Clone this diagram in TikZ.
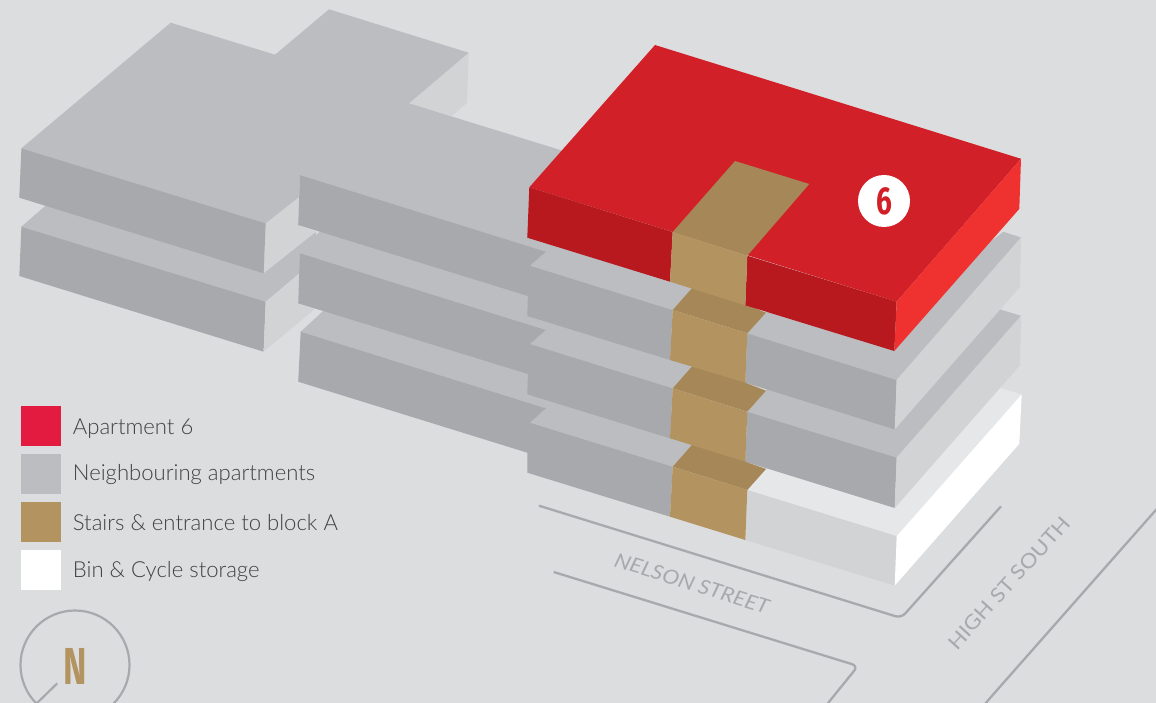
\documentclass[tikz,border=0pt]{standalone}
\usepackage{fontspec}
\setmainfont{Lato}[UprightFont=* Light,ItalicFont=* Italic]
\newfontfamily\numfont{Fira Sans}
\newfontfamily\streetfont{Lato}
\definecolor{bgc}{HTML}{DCDDDF}
\definecolor{gtop}{HTML}{BBBDC0}
\definecolor{gfront}{HTML}{A7A9AC}
\definecolor{gside}{HTML}{D1D3D4}
\definecolor{wtop}{HTML}{E6E7E8}
\definecolor{rtop}{HTML}{D12027}
\definecolor{rfront}{HTML}{B8191E}
\definecolor{rside}{HTML}{EF3230}
\definecolor{stfront}{HTML}{B39461}
\definecolor{sttop}{HTML}{A58758}
\definecolor{legred}{HTML}{E31B40}
\definecolor{txt}{HTML}{414042}
\tikzset{
  x=1pt,y=-1pt,
  roofgrey/.style={fill=gtop},
  frontgrey/.style={fill=gfront},
  sidegrey/.style={fill=gside},
  stairtop/.style={fill=sttop},
  stairfront/.style={fill=stfront},
  road/.style={draw=gfront,line width=2.3pt,rounded corners=6pt},
  legbox/.style={minimum size=40pt,inner sep=0pt,outer sep=0pt,anchor=north west},
  legtext/.style={anchor=base west,inner sep=0pt,text=txt,font=\fontsize{22.1}{25}\selectfont},
  streetname/.style={inner sep=0pt,text=gfront}
}
\begin{document}
\begin{tikzpicture}
\useasboundingbox (0,0) rectangle (1156,703);
\clip (0,0) rectangle (1156,703);
\fill[bgc] (0,0) rectangle (1156,703);
% roads
\draw[road] (539,505.7) -- (901.2,618) -- (1001,506.3);
\draw[road] (553.7,572) -- (858,666) -- (824,708);
\draw[road] (1160,505.3) -- (988.3,700) -- (985,704);
\node[streetname,rotate=-17.5] (nelson) at (692,583.5) {\scalebox{1.12}[1]{\fontsize{20}{22}\selectfont\streetfont\itshape NELSON STREET}};
\node[streetname,rotate=48] (highst) at (1009,583) {\scalebox{1.12}[1]{\fontsize{20}{22}\selectfont\streetfont HIGH ST SOUTH}};
% bottom storage
\fill[wtop] (747.3,490) -- (896.7,536.2) -- (1021.7,394.4) -- (1000,388) -- (890,480) -- (766,450) -- (766,469) -- cycle;
\fill[gside] (747.3,490) -- (745.3,540) -- (894.7,585.6) -- (896.7,536.2) -- cycle;
\fill[white] (896.7,536.2) -- (894.7,585.6) -- (1019.3,443.8) -- (1021.7,394.4) -- cycle;
% right column, third level
\fill[roofgrey] (747.3,411.7) -- (896.7,457.6) -- (1021,315.8) -- (1000,309.4) -- (890,400) -- (766,375) -- (766,390.7) -- cycle;
\fill[frontgrey] (747.3,411.7) -- (745.3,461.7) -- (894.7,508) -- (896.7,457.6) -- cycle;
\fill[sidegrey] (896.7,457.6) -- (894.7,508) -- (1020,365.2) -- (1021,315.8) -- cycle;
% right column, second level
\fill[roofgrey] (747.3,333.3) -- (896.7,380) -- (1021,237.5) -- (1003.3,231.8) -- (890,320) -- (766,300) -- (766,312.7) -- cycle;
\fill[frontgrey] (747.3,333.3) -- (745.3,382.7) -- (894.7,429.4) -- (896.7,380) -- cycle;
\fill[sidegrey] (896.7,380) -- (894.7,429.4) -- (1020,286.9) -- (1021,237.5) -- cycle;
% lower-left block
\fill[roofgrey] (21.4,226.7) -- (50,201.7) -- (264,270) -- (316,231.7) -- (320,260) -- (265.7,301.7) -- cycle;
\fill[frontgrey] (21.4,226.7) -- (19.3,276) -- (263.6,351.7) -- (265.7,301.7) -- cycle;
\fill[sidegrey] (265.7,301.7) -- (263.6,351.7) -- (316,308) -- (298.2,303.3) -- (299.3,273.3) -- cycle;
% middle column strips
\fill[roofgrey] (300.7,331.7) -- (335,300) -- (690,418) -- (691.7,445) -- (672.7,466.7) -- (530,422.7) -- (546,408.3) -- cycle;
\fill[frontgrey] (300.7,331.7) -- (298.2,381.7) -- (527.3,452.7) -- (527.3,472.7) -- (670,516.7) -- (672.7,466.7) -- (530,422.7) -- (546,408.3) -- cycle;
\fill[roofgrey] (300,253.3) -- (330,220) -- (690,340) -- (691.7,366.7) -- (672.7,388.3) -- (530,344) -- (546,330) -- cycle;
\fill[frontgrey] (300,253.3) -- (298.2,303.3) -- (527.9,374) -- (527.3,394.3) -- (670,438.3) -- (672.7,388.3) -- (530,344) -- (546,330) -- cycle;
% upper block
\fill[sidegrey] (468.6,52.7) -- (467.1,102.7) -- (451.8,116) -- (409,103.3) -- cycle;
\fill[sidegrey] (265.7,223.3) -- (263.6,273.3) -- (316,231.7) -- (298.2,225) -- (300,190) -- cycle;
\fill[roofgrey] (21.4,148.3) -- (170.7,22.7) -- (275,54.7) -- (329,9.3) -- (468.6,52.7) -- (409,103.3) -- (570,153) -- (600,250) -- (691.7,288.3) -- (672.7,310) -- (530,265.7) -- (546,251.7) -- (300,175) -- (299.3,196.7) -- (265.7,223.3) -- cycle;
\fill[frontgrey] (21.4,148.3) -- (19.3,197.7) -- (263.6,273.3) -- (265.7,223.3) -- cycle;
\fill[frontgrey] (300,175) -- (298.2,225) -- (527.9,296) -- (527.3,316) -- (670,360) -- (672.7,310) -- (530,265.7) -- (546,251.7) -- cycle;
% stairs, lowest first; each roof runs on under the flight above it
\fill[stairtop] (672.7,466.7) -- (697,439) -- (745,450) -- (745.3,461.7) -- (766,469) -- (747.3,490) -- cycle;
\fill[stairfront] (672.7,466.7) -- (670,516.7) -- (745.3,540) -- (747.3,490) -- cycle;
\fill[stairtop] (672.7,388.3) -- (697,360.7) -- (745,372) -- (745.3,382.7) -- (766,390.7) -- (747.3,411.7) -- cycle;
\fill[stairfront] (672.7,388.3) -- (670,438.3) -- (745.3,461.7) -- (747.3,411.7) -- cycle;
\fill[stairtop] (672.7,310) -- (697,282.4) -- (745,293.7) -- (745.3,304.3) -- (766,312.7) -- (747.3,333.3) -- cycle;
\fill[stairfront] (672.7,310) -- (670,360) -- (745.3,382.7) -- (747.3,333.3) -- cycle;
% apartment 6
\fill[rtop] (529.3,187.3) -- (655,45) -- (1021,158.8) -- (896.7,301.7) -- cycle;
\fill[rfront] (529.3,187.3) -- (527.3,237.7) -- (670,281.7) -- (672.7,232) -- cycle;
\fill[rfront] (747.3,255.7) -- (745.3,305.3) -- (894.3,351) -- (896.7,301.7) -- cycle;
\fill[rside] (896.7,301.7) -- (894.3,351) -- (1019.3,208.9) -- (1021,158.8) -- cycle;
\fill[stairtop] (672.7,232) -- (735,161) -- (809.3,184) -- (747.3,255.7) -- cycle;
\fill[stairfront] (672.7,232) -- (670,281.7) -- (745.3,305.3) -- (747.3,255.7) -- cycle;
\node[circle,fill=white,minimum size=52pt,inner sep=0pt] (six) at (884,201) {\numfont\bfseries\color{rtop}\scalebox{0.72}[1]{\fontsize{39}{39}\selectfont 6}};
% legend
\node[legbox,fill=legred] (k1) at (21,406) {};
\node[legbox,fill=gtop] (k2) at (21,454) {};
\node[legbox,fill=stfront] (k3) at (21,502) {};
\node[legbox,fill=white] (k4) at (21,550) {};
\node[legtext] (t1) at (72.7,434.3) {Apartment 6};
\node[legtext] (t2) at (72.7,480) {Neighbouring apartments};
\node[legtext] (t3) at (72.7,530) {Stairs \& entrance to block A};
\node[legtext] (t4) at (72.7,577.3) {Bin \& Cycle storage};
% north sign
\node[circle,draw=gfront,line width=2.2pt,minimum size=109pt,inner sep=0pt] (ring) at (75,665) {};
\coordinate (tick) at (57.3,683.3);
\draw[draw=gfront,line width=2.2pt] (tick) -- (33,707);
\node[inner sep=0pt,text=stfront] (north) at (75.5,666) {\numfont\bfseries\scalebox{0.68}[1]{\fontsize{52}{52}\selectfont N}};
\end{tikzpicture}
\end{document}
